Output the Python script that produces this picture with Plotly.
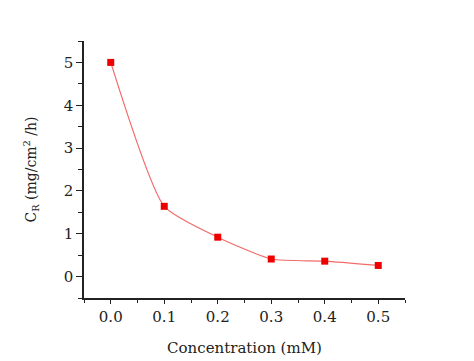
import plotly.graph_objects as go

concentration = [0.0, 0.1, 0.2, 0.3, 0.4, 0.5]
cr_values = [5.0, 1.64, 0.92, 0.41, 0.36, 0.26]
x_tick_labels = ["0.0", "0.1", "0.2", "0.3", "0.4", "0.5"]
y_tick_labels = ["0", "1", "2", "3", "4", "5"]

font_family = "DejaVu Serif, serif"

fig = go.Figure()
fig.add_trace(go.Scatter(
    x=concentration, y=cr_values,
    mode="lines+markers",
    line=dict(shape="spline", color="#f26b6b", width=1.2, smoothing=0.55),
    marker=dict(symbol="square", size=7, color="#ee0000"),
    showlegend=False,
))

# page body has an 8px default margin, so the margins are shifted by 8px
fig.update_layout(
    width=474, height=361,
    margin=dict(l=76, r=77, t=33, b=71),
    paper_bgcolor="white", plot_bgcolor="white",
    font=dict(family=font_family, size=15, color="#222"),
    xaxis=dict(
        range=[-0.05, 0.55], automargin=False,
        tickvals=concentration, ticktext=x_tick_labels,
        showgrid=False, zeroline=False,
        showline=True, linecolor="#222", linewidth=1.5,
        ticks="outside", ticklen=4, tickwidth=1.2, tickcolor="#222",
        minor=dict(ticks="outside", ticklen=3, tickwidth=1.2, tickcolor="#222", dtick=0.05, tick0=0.05, showgrid=False),
        title=dict(text="Concentration (mM)", font=dict(size=15), standoff=18),
        tickfont=dict(size=15),
    ),
    yaxis=dict(
        range=[-0.5, 5.5], automargin=False,
        tickvals=[0, 1, 2, 3, 4, 5], ticktext=y_tick_labels,
        showgrid=False, zeroline=False,
        showline=True, linecolor="#222", linewidth=1.5,
        ticks="outside", ticklen=6, tickwidth=1.2, tickcolor="#222",
        minor=dict(ticks="outside", ticklen=4, tickwidth=1.2, tickcolor="#222", dtick=0.5, tick0=0.5, showgrid=False),
        title=dict(text="C<sub>R</sub> (mg/cm<sup>2</sup> /h)", font=dict(size=14), standoff=24),
        tickfont=dict(size=15),
    ),
)

fig.write_html("out.html")
